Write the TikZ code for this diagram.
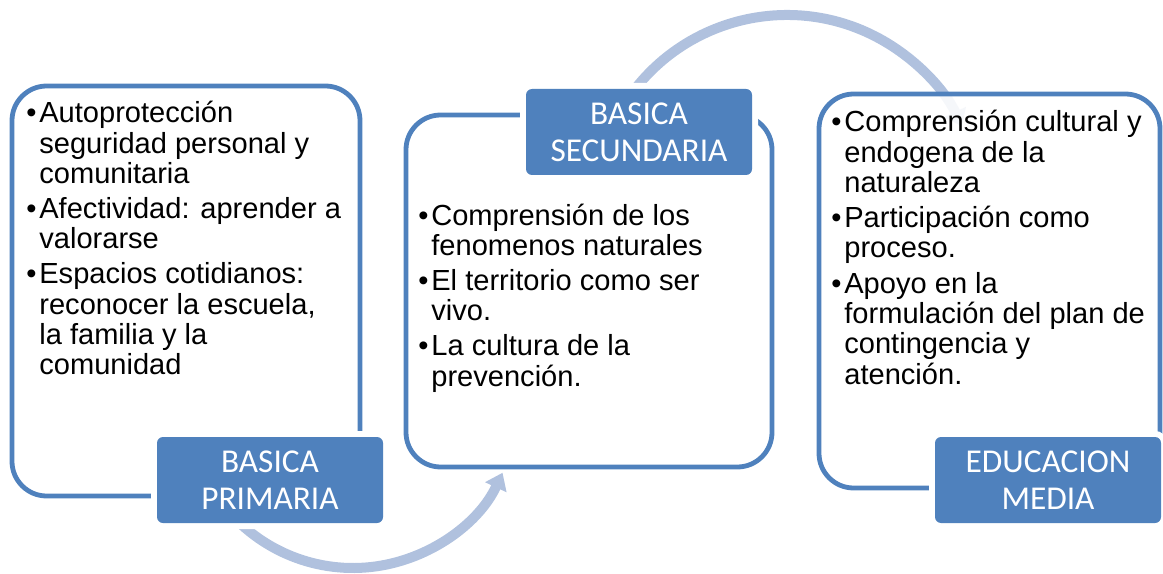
\documentclass[tikz,border=0pt]{standalone}
\usepackage{fontspec}
\setmainfont{Liberation Sans}
\newfontfamily\tagfont{Carlito}
\usetikzlibrary{arrows.meta, positioning}
\definecolor{boxblue}{RGB}{79,129,189}
\definecolor{arcblue}{RGB}{176,193,222}

\begin{document}
\begin{tikzpicture}[x=0.75pt,y=-0.75pt,
 frame/.style={rectangle,draw=boxblue,line width=3.6pt,rounded corners=26pt,
   fill=white,fill opacity=0.88,inner sep=0pt},
 tag node/.style={rectangle,rounded corners=4.5pt,fill=boxblue,text=white,
   align=center,minimum width=169.5pt,minimum height=64.5pt,inner sep=0pt,
   font=\tagfont\fontsize{25}{27.75}\selectfont,
   preaction={draw=white,line width=9pt}},
 item node/.style={anchor=base west,inner sep=0pt,
   font=\fontsize{21.8}{22.5}\selectfont},
 cycle arrow/.style={draw=arcblue,line width=7.5pt,
   -{Triangle[width=17pt,length=12pt]}}]
 \useasboundingbox (0,0) rectangle (1163,574);

 % arcs between the stages
 \coordinate (c1) at (353,403);
 \coordinate (c2) at (787,208);
 \draw[cycle arrow] ([shift={(140:165)}]c1) arc[start angle=140,end angle=25,radius=165];
 \draw[cycle arrow] ([shift={(210:193)}]c2) arc[start angle=210,end angle=335,radius=193];

 \foreach \n/\x/\w/\h in {box1/186/261/307.5, box2/589/274.5/264, box3/989.5/255.75/295.5}{
     \node[frame,minimum width=\w pt,minimum height=\h pt](\n) at (\x,291){};}

 \foreach \n/\x/\y/\t in {prim/270/480/{BASICA\\PRIMARIA}, secu/639/132/{BASICA\\SECUNDARIA},
     medi/1048/480/{EDUCACION\\MEDIA}}{
     \node[tag node](\n) at (\x,\y){\t};}

 \node[item node](t1) at (26,123){\begin{tabular}[t]{@{}l@{\hspace{2.2pt}}l@{}}
   •&Autoprotección\\ &seguridad personal y\\ &comunitaria\\[4pt]
   •&Afectividad: aprender a\\ &valorarse\\[4pt]
   •&Espacios cotidianos:\\ &reconocer la escuela,\\ &la familia y la\\ &comunidad
 \end{tabular}};
 \node[item node](t2) at (418,225){\begin{tabular}[t]{@{}l@{\hspace{2.2pt}}l@{}}
   •&Comprensión de los\\ &fenomenos naturales\\[4pt]
   •&El territorio como ser\\ &vivo.\\[4pt]
   •&La cultura de la\\ &prevención.
 \end{tabular}};
 \node[item node](t3) at (831,132){\begin{tabular}[t]{@{}l@{\hspace{2.2pt}}l@{}}
   •&Comprensión cultural y\\ &endogena de la\\ &naturaleza\\[4pt]
   •&Participación como\\ &proceso.\\[4pt]
   •&Apoyo en la\\ &formulación del plan de\\ &contingencia y\\ &atención.
 \end{tabular}};
\end{tikzpicture}
\end{document}
